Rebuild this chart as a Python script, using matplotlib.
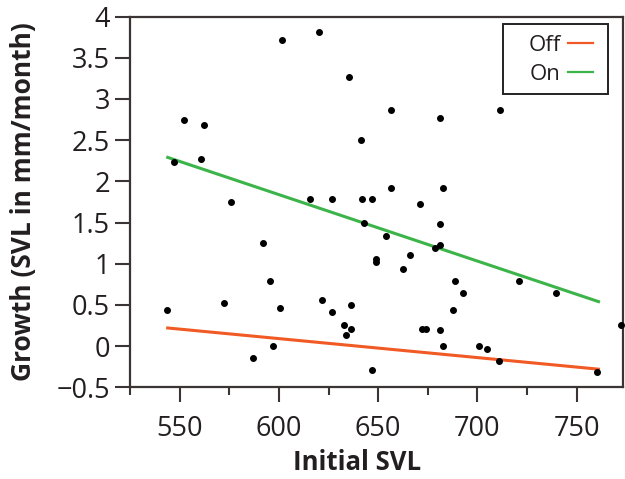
import matplotlib
matplotlib.use("Agg")
import matplotlib.pyplot as plt
from matplotlib.ticker import FixedLocator, FuncFormatter
from matplotlib.patches import Rectangle

plt.rcParams['font.family'] = ['Open Sans', 'DejaVu Sans']

# Data
svl = [601.8, 620.3, 635.5, 552.2, 562.3, 641.5, 547.2, 561.0, 615.5, 626.7,
       641.7, 646.7, 576.0, 643.0, 592.2, 648.8, 648.8, 595.7, 572.2, 543.5,
       600.7, 621.7, 626.8, 636.2, 632.8, 636.2, 633.8, 597.0, 587.0, 646.7,
       656.7, 682.5, 671.3, 681.3, 653.8, 681.3, 678.8, 666.3, 662.7, 688.8,
       692.5, 721.0, 739.7, 687.5, 672.2, 674.0, 681.3, 682.7, 701.0, 704.7,
       711.0, 760.5, 772.5, 656.7, 681.3, 711.3]
growth = [3.72, 3.81, 3.26, 2.74, 2.68, 2.50, 2.23, 2.27, 1.79, 1.79,
          1.79, 1.79, 1.75, 1.49, 1.25, 1.06, 1.02, 0.79, 0.52, 0.44,
          0.46, 0.56, 0.41, 0.50, 0.26, 0.21, 0.14, 0.00, -0.14, -0.29,
          1.92, 1.92, 1.72, 1.48, 1.34, 1.23, 1.19, 1.11, 0.93, 0.79,
          0.64, 0.79, 0.64, 0.44, 0.21, 0.21, 0.20, 0.00, 0.00, -0.03,
          -0.18, -0.31, 0.26, 2.86, 2.77, 2.86]

fit_x = [544, 761]
off_y = [0.22, -0.28]
on_y = [2.29, 0.54]

series_labels = ["Off", "On"]
x_ticks = [550, 600, 650, 700, 750]
x_minor = [525, 575, 625, 675, 725]
y_ticks = [-0.5, 0, 0.5, 1, 1.5, 2, 2.5, 3, 3.5, 4]

off_color = '#f15a24'
on_color = '#3cb44a'
spine_color = '#3a3434'
text_color = '#231f20'

W, H = 625, 479
L, R, T, B = 130, 623.3, 16.5, 387.3
fig = plt.figure(figsize=(W/100, H/100), dpi=100)
ax = fig.add_axes([L/W, 1-B/H, (R-L)/W, (B-T)/H])

def ax_x(px):
    return (px - L) / (R - L)

def ax_y(py):
    return 1 - (py - T) / (B - T)

ax.plot(svl, growth, 'o', color='black', ms=4.0, clip_on=False, zorder=3)
ax.plot(fit_x, off_y, color=off_color, lw=2.2, label=series_labels[0], zorder=2)
ax.plot(fit_x, on_y, color=on_color, lw=2.2, label=series_labels[1], zorder=2)

ax.set_xlim(525, 773.5)
ax.set_ylim(-0.5, 4)

ax.xaxis.set_major_locator(FixedLocator(x_ticks))
ax.xaxis.set_minor_locator(FixedLocator(x_minor))
ax.yaxis.set_major_locator(FixedLocator(y_ticks))

def yfmt(v, pos):
    s = '%g' % v
    return s.replace('-', '\u2212')
ax.yaxis.set_major_formatter(FuncFormatter(yfmt))

for sp in ax.spines.values():
    sp.set_color(spine_color)
    sp.set_linewidth(1.6)

ax.tick_params(axis='both', which='major', direction='out', length=11,
               width=1.5, color=spine_color, labelsize=19.5, labelcolor=text_color)
ax.tick_params(axis='x', which='major', pad=9)
ax.tick_params(axis='y', which='major', pad=3.5)
ax.tick_params(axis='x', which='minor', direction='out', length=6,
               width=1.5, color=spine_color)

ax.set_xlabel('Initial SVL', fontsize=18.5, fontweight='bold', color=text_color)
ax.set_ylabel('Growth (SVL in mm/month)', fontsize=19, fontweight='bold', color=text_color)
ax.xaxis.set_label_coords(ax_x(357), ax_y(449))
ax.yaxis.set_label_coords(ax_x(37), 0.5)

# legend frame
ax.add_patch(Rectangle((ax_x(503), ax_y(94)), ax_x(608) - ax_x(503), ax_y(24) - ax_y(94),
                       transform=ax.transAxes, fill=True, facecolor='white',
                       edgecolor='#222222', lw=1.4, zorder=4, clip_on=False))
leg = ax.legend(loc='upper right', bbox_to_anchor=(ax_x(593), ax_y(35)), borderaxespad=0,
                borderpad=0, markerfirst=False, fontsize=16, handlelength=1.13,
                handletextpad=0.32, frameon=False, labelspacing=0.36)
leg.set_zorder(5)
for t in leg.get_texts():
    t.set_color(text_color)
for h in leg.get_lines():
    h.set_linewidth(1.6)

fig.savefig('out.png', dpi=100)
